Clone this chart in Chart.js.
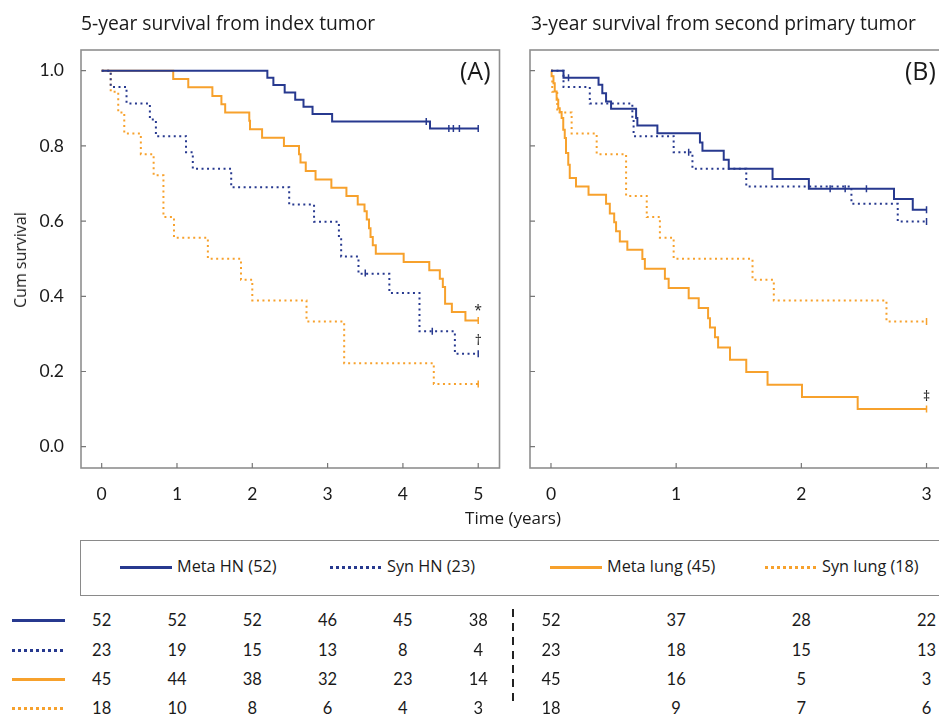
<!DOCTYPE html>
<html>
<head>
<meta charset="utf-8">
<script src="https://cdn.jsdelivr.net/npm/chart.js@4.4.1/dist/chart.umd.min.js"></script>
<style>
  body { margin: 0; width: 939px; height: 715px; overflow: hidden; background: #fff; position: relative; font-family: "Open Sans", sans-serif; color: #1a1a1a; }
  canvas { position: absolute; top: 0; }
  .txt { position: absolute; white-space: nowrap; line-height: 1; }
  .num { position: absolute; font-family: Lato, sans-serif; font-size: 16.5px; transform: translate(-50%, -50%); color: #1a1a1a; }
  .sample { position: absolute; height: 3px; }
</style>
</head>
<body>
<canvas id="panelA" width="505" height="535" style="left:0"></canvas>
<canvas id="panelB" width="440" height="535" style="left:515px"></canvas>
<div class="txt" style="left:81px;top:13px;font-size:19.3px">5-year survival from index tumor</div>
<div class="txt" style="left:531px;top:13px;font-size:19.3px">3-year survival from second primary tumor</div>
<div class="txt" style="left:460px;top:58px;font-size:25px">(A)</div>
<div class="txt" style="left:905px;top:58px;font-size:25px">(B)</div>
<div class="txt" style="left:20px;top:260px;font-size:16px;transform:translate(-50%,-50%) rotate(-90deg)">Cum survival</div>
<div class="txt" style="left:513px;top:517px;font-size:17px;transform:translate(-50%,-50%)">Time (years)</div>
<div id="legend" style="position:absolute;left:80px;top:540px;width:900px;height:54px;border:1.5px solid #8a8a8a;"></div>
<div id="table"></div>
<script>
// number at risk
const groups = ['Meta HN', 'Syn HN', 'Meta lung', 'Syn lung'];
const yearsA = [0, 1, 2, 3, 4, 5];
const yearsB = [0, 1, 2, 3];
const yTicks = [0, 0.2, 0.4, 0.6, 0.8, 1.0];
const atRiskA = [[52, 52, 52, 46, 45, 38], [23, 19, 15, 13, 8, 4], [45, 44, 38, 32, 23, 14], [18, 10, 8, 6, 4, 3]];
const atRiskB = [[52, 37, 28, 22], [23, 18, 15, 13], [45, 16, 5, 3], [18, 9, 7, 6]];

// panel A: survival from index tumor (time in years, cum survival)
const aMetaHnT = [0, 2.20, 2.28, 2.43, 2.57, 2.68, 2.80, 3.06, 4.36, 5.0];
const aMetaHnS = [1, 0.981, 0.962, 0.942, 0.923, 0.904, 0.885, 0.865, 0.846, 0.846];
const aSynHnT = [0, 0.12, 0.33, 0.64, 0.72, 1.12, 1.21, 1.72, 2.49, 2.82, 3.15, 3.18, 3.41, 3.82, 4.22, 4.69, 5.0];
const aSynHnS = [1, 0.957, 0.913, 0.870, 0.826, 0.783, 0.739, 0.690, 0.644, 0.598, 0.552, 0.506, 0.460, 0.409, 0.307, 0.247, 0.247];
const aMetaLungT = [0, 0.95, 1.15, 1.47, 1.59, 1.64, 1.96, 1.97, 2.13, 2.42, 2.62, 2.64, 2.71, 2.84, 3.05, 3.25, 3.40, 3.49, 3.52, 3.55, 3.57, 3.60, 3.64, 4.01, 4.35, 4.49, 4.53, 4.56, 4.65, 4.83, 5.0];
const aMetaLungS = [1, 0.978, 0.956, 0.933, 0.911, 0.889, 0.867, 0.844, 0.822, 0.800, 0.778, 0.756, 0.733, 0.711, 0.689, 0.667, 0.644, 0.626, 0.604, 0.581, 0.558, 0.536, 0.513, 0.491, 0.469, 0.447, 0.425, 0.380, 0.358, 0.336, 0.336];
const aSynLungT = [0, 0.12, 0.22, 0.30, 0.52, 0.69, 0.82, 0.96, 1.41, 1.85, 2.00, 2.72, 3.22, 4.41, 5.0];
const aSynLungS = [1, 0.944, 0.889, 0.833, 0.778, 0.722, 0.611, 0.556, 0.500, 0.444, 0.389, 0.333, 0.222, 0.167, 0.167];

// panel B: survival from second primary tumor
const bMetaHnT = [0, 0.10, 0.38, 0.41, 0.44, 0.48, 0.68, 0.69, 0.85, 1.19, 1.21, 1.38, 1.42, 1.77, 2.06, 2.74, 2.89, 3.0];
const bMetaHnS = [1, 0.981, 0.963, 0.940, 0.918, 0.899, 0.874, 0.854, 0.834, 0.809, 0.787, 0.763, 0.739, 0.712, 0.686, 0.659, 0.630, 0.630];
const bSynHnT = [0, 0.10, 0.31, 0.65, 0.66, 0.98, 1.13, 1.56, 2.40, 2.77, 3.0];
const bSynHnS = [1, 0.957, 0.913, 0.870, 0.826, 0.783, 0.739, 0.692, 0.646, 0.599, 0.599];
const bMetaLungT = [0, 0.005, 0.02, 0.03, 0.045, 0.058, 0.07, 0.085, 0.098, 0.11, 0.12, 0.138, 0.15, 0.20, 0.30, 0.44, 0.47, 0.505, 0.52, 0.55, 0.61, 0.73, 0.75, 0.91, 0.94, 1.10, 1.18, 1.255, 1.27, 1.31, 1.335, 1.43, 1.56, 1.73, 2.005, 2.45, 3.0];
const bMetaLungS = [1, 0.985, 0.967, 0.945, 0.923, 0.900, 0.890, 0.874, 0.843, 0.821, 0.781, 0.750, 0.715, 0.692, 0.670, 0.646, 0.620, 0.597, 0.573, 0.546, 0.524, 0.499, 0.473, 0.447, 0.422, 0.395, 0.369, 0.342, 0.317, 0.291, 0.264, 0.231, 0.199, 0.165, 0.132, 0.100, 0.100];
const bSynLungT = [0, 0.01, 0.05, 0.165, 0.365, 0.60, 0.765, 0.87, 0.98, 1.61, 1.78, 2.68, 3.0];
const bSynLungS = [1, 0.944, 0.889, 0.833, 0.778, 0.667, 0.611, 0.556, 0.500, 0.444, 0.389, 0.333, 0.333];

// censored observations
const aCensorT = [[4.31, 4.61, 4.67, 4.75, 5.0], [3.50, 4.39, 5.0], [5.0], [5.0]];
const aCensorS = [[0.865, 0.846, 0.846, 0.846, 0.846], [0.462, 0.307, 0.247], [0.336], [0.167]];
const bCensorT = [[0.14, 2.23, 2.35, 2.52, 3.0], [1.10, 3.0], [3.0], [3.0]];
const bCensorS = [[0.981, 0.686, 0.686, 0.686, 0.630], [0.783, 0.599], [0.100], [0.333]];

const colors = ['#27398f', '#27398f', '#f7a12c', '#f7a12c'];
const dashed = [false, true, false, true];

function pts(t, s) { return t.map((v, i) => ({ x: v, y: s[i] })); }

const kmPlugin = {
  id: 'kmFrame',
  beforeDatasetsDraw(chart) {
    const { ctx, chartArea: a, scales } = chart;
    ctx.save();
    ctx.strokeStyle = '#8f8f8f';
    ctx.lineWidth = 1.6;
    ctx.strokeRect(a.left, a.top, a.right - a.left, a.bottom - a.top);
    ctx.strokeStyle = '#777';
    ctx.lineWidth = 1.2;
    ctx.beginPath();
    scales.y.ticks.forEach(t => {
      const y = scales.y.getPixelForValue(t.value);
      ctx.moveTo(a.left, y); ctx.lineTo(a.left + 5, y);
    });
    scales.x.ticks.forEach(t => {
      const x = scales.x.getPixelForValue(t.value);
      ctx.moveTo(x, a.bottom); ctx.lineTo(x, a.bottom - 5);
    });
    ctx.stroke();
    ctx.restore();
  },
  afterDatasetsDraw(chart, args, opts) {
    const { ctx, scales } = chart;
    ctx.save();
    ctx.fillStyle = '#222';
    ctx.font = '14px "Open Sans"';
    ctx.textAlign = 'center';
    ctx.textBaseline = 'middle';
    (opts.marks || []).forEach(m => {
      ctx.fillText(m.text, scales.x.getPixelForValue(m.x), scales.y.getPixelForValue(m.y));
    });
    ctx.restore();
  }
};

function makeKM(id, series, censT, censS, xMin, xMax, xTicks, showY, yWidth, marks) {
  const datasets = [];
  series.forEach((s, i) => {
    datasets.push({
      data: pts(s[0], s[1]),
      borderColor: colors[i],
      borderWidth: 2,
      borderDash: dashed[i] ? [2, 3.5] : [],
      stepped: true,
      pointRadius: 0,
      fill: false
    });
  });
  censT.forEach((t, i) => {
    datasets.push({
      data: pts(t, censS[i]),
      showLine: false,
      borderColor: colors[i],
      pointStyle: 'line',
      rotation: 90,
      pointRadius: 3.5,
      pointBorderWidth: 1.5
    });
  });
  return new Chart(document.getElementById(id), {
    type: 'line',
    data: { datasets },
    plugins: [kmPlugin],
    options: {
      responsive: false,
      animation: false,
      layout: { padding: { top: 50, right: 5, left: 0, bottom: 0 } },
      plugins: { legend: { display: false }, tooltip: { enabled: false }, kmFrame: { marks } },
      scales: {
        x: {
          type: 'linear', min: xMin, max: xMax,
          grid: { display: false }, border: { display: false },
          afterBuildTicks: s => { s.ticks = xTicks.map(v => ({ value: v })); },
          afterFit: s => { s.height = 67; },
          ticks: { padding: 8, color: '#1a1a1a', font: { family: 'Lato', size: 17.5 } }
        },
        y: {
          min: -0.0566, max: 1.0551,
          grid: { display: false }, border: { display: false },
          afterBuildTicks: s => { s.ticks = yTicks.map(v => ({ value: v })); },
          afterFit: s => { s.width = yWidth; },
          ticks: { display: showY, padding: 9, color: '#1a1a1a', font: { family: 'Lato', size: 17.5 }, callback: v => v.toFixed(1) }
        }
      }
    }
  });
}

const chartA = makeKM('panelA',
  [[aMetaHnT, aMetaHnS], [aSynHnT, aSynHnS], [aMetaLungT, aMetaLungS], [aSynLungT, aSynLungS]],
  aCensorT, aCensorS, -0.2745, 5.2825, yearsA, true, 81,
  [{ x: 5, y: 0.36, text: '*' }, { x: 5, y: 0.282, text: '†' }]);
const chartB = makeKM('panelB',
  [[bMetaHnT, bMetaHnS], [bSynHnT, bSynHnS], [bMetaLungT, bMetaLungS], [bSynLungT, bSynLungS]],
  bCensorT, bCensorS, -0.1676, 3.1835, yearsB, false, 15,
  [{ x: 3, y: 0.132, text: '‡' }]);

function sampleStyle(i) {
  return dashed[i]
    ? `background:repeating-linear-gradient(to right, ${colors[i]} 0 3px, transparent 3px 6px);`
    : `background:${colors[i]};`;
}

// legend
const legend = document.getElementById('legend');
const legendX = [39, 249, 469, 684];
groups.forEach((g, i) => {
  legend.insertAdjacentHTML('beforeend',
    `<div class="sample" style="left:${legendX[i]}px;top:25px;width:52px;${sampleStyle(i)}"></div>` +
    `<div class="txt" style="left:${legendX[i] + 57}px;top:17px;font-size:16.3px">${g} (${atRiskA[i][0]})</div>`);
});

// number at risk table
const table = document.getElementById('table');
const rowY = [620, 650, 679, 708];
let html = '';
groups.forEach((g, i) => {
  html += `<div class="sample" style="left:12px;top:${rowY[i] - 1.5}px;width:53px;${sampleStyle(i)}"></div>`;
  yearsA.forEach((yr, j) => {
    const x = chartA.scales.x.getPixelForValue(yr);
    html += `<div class="num" style="left:${x}px;top:${rowY[i]}px">${atRiskA[i][j]}</div>`;
  });
  yearsB.forEach((yr, j) => {
    const x = 515 + chartB.scales.x.getPixelForValue(yr);
    html += `<div class="num" style="left:${x}px;top:${rowY[i]}px">${atRiskB[i][j]}</div>`;
  });
});
html += '<div style="position:absolute;left:512px;top:609px;width:2px;height:94px;background:repeating-linear-gradient(to bottom,#222 0 8px,transparent 8px 14px)"></div>';
table.innerHTML = html;
</script>
</body>
</html>
